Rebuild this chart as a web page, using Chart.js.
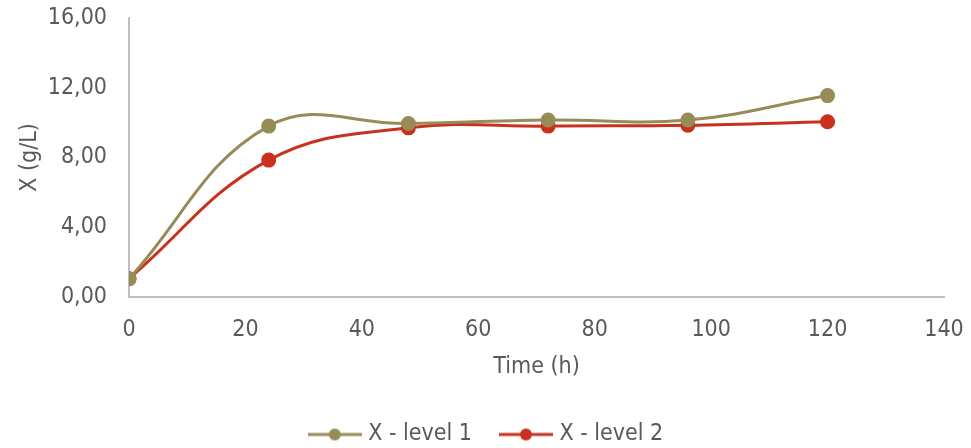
<!DOCTYPE html>
<html>
<head>
<meta charset="utf-8">
<script src="https://cdn.jsdelivr.net/npm/chart.js@4/dist/chart.umd.min.js"></script>
<style>
  html, body { margin: 0; padding: 0; background: #ffffff; }
  #wrap { width: 971px; height: 448px; }
</style>
</head>
<body>
<div id="wrap"><canvas id="chart" width="971" height="448"></canvas></div>
<script>
// Biomass concentration over time for two levels
const timeHours = [0, 24, 48, 72, 96, 120];
const level1 = [1.05, 9.80, 9.95, 10.15, 10.15, 11.55];
const level2 = [1.05, 7.85, 9.70, 9.80, 9.85, 10.05];
const seriesNames = ['X - level 1', 'X - level 2'];
const xTitle = 'Time (h)';
const yTitle = 'X (g/L)';

const colors = ['#978B58', '#C9311E'];
const FONT = '"DejaVu Sans Condensed", "Liberation Sans Narrow", "Noto Sans", sans-serif';
const TEXT = '#595959';
const AXIS = '#BFBFBF';
const FS = 23;

// Legend marker: short line with a dot in the middle
function legendMarker(color) {
  const c = document.createElement('canvas');
  c.width = 54; c.height = 14;
  const g = c.getContext('2d');
  g.strokeStyle = color; g.lineWidth = 3;
  g.beginPath(); g.moveTo(0, 7); g.lineTo(54, 7); g.stroke();
  g.fillStyle = color;
  g.beginPath(); g.arc(27, 7, 6, 0, Math.PI * 2); g.fill();
  return c;
}

// Center the legend on the full canvas width rather than the padded area
const legendShift = {
  id: 'legendShift',
  afterLayout(chart) {
    const lg = chart.legend;
    if (lg) { lg.left += 9; lg.right += 9; }
  }
};

const toPoints = (vals) => timeHours.map((t, i) => ({ x: t, y: vals[i] }));

new Chart(document.getElementById('chart'), {
  type: 'line',
  data: {
    datasets: [level1, level2].map((vals, i) => ({
      label: seriesNames[i],
      data: toPoints(vals),
      borderColor: colors[i],
      backgroundColor: colors[i],
      pointBackgroundColor: colors[i],
      pointBorderColor: colors[i],
      borderWidth: 3,
      pointRadius: 6,
      tension: 0.4,
      fill: false,
      pointStyle: 'circle'
    }))
  },
  plugins: [legendShift],
  options: {
    responsive: false,
    animation: false,
    layout: { padding: { left: 14, right: 27, top: 18, bottom: -8 } },
    scales: {
      x: {
        type: 'linear',
        min: 0, max: 140,
        ticks: { stepSize: 20, color: TEXT, font: { family: FONT, size: FS }, padding: 19 },
        grid: { display: false, drawTicks: false },
        border: { display: true, color: AXIS, width: 2 },
        title: { display: true, text: xTitle, color: TEXT, font: { family: FONT, size: FS }, padding: { top: 0, bottom: 10 } },
        afterFit: (s) => { s.height = 94; s.paddingLeft = 0; s.paddingRight = 0; }
      },
      y: {
        min: 0, max: 16,
        ticks: {
          stepSize: 4, color: TEXT, font: { family: FONT, size: FS }, padding: 22,
          callback: (v) => v.toFixed(2).replace('.', ',')
        },
        grid: { display: false, drawTicks: false },
        border: { display: true, color: AXIS, width: 2 },
        title: { display: true, text: yTitle, color: TEXT, font: { family: FONT, size: FS }, padding: { top: 2, bottom: 0 } },
        afterFit: (s) => { s.width = 115; s.paddingTop = 0; s.paddingBottom = 0; }
      }
    },
    plugins: {
      tooltip: { enabled: false },
      legend: {
        position: 'bottom',
        labels: {
          color: TEXT,
          font: { family: FONT, size: FS },
          usePointStyle: true,
          pointStyleWidth: 44,
          padding: 32,
          generateLabels: (chart) => chart.data.datasets.map((ds, i) => ({
            text: ds.label,
            fillStyle: ds.borderColor,
            strokeStyle: ds.borderColor,
            fontColor: TEXT,
            lineWidth: 0,
            pointStyle: legendMarker(ds.borderColor),
            datasetIndex: i,
            hidden: false
          }))
        }
      }
    }
  }
});
</script>
</body>
</html>
